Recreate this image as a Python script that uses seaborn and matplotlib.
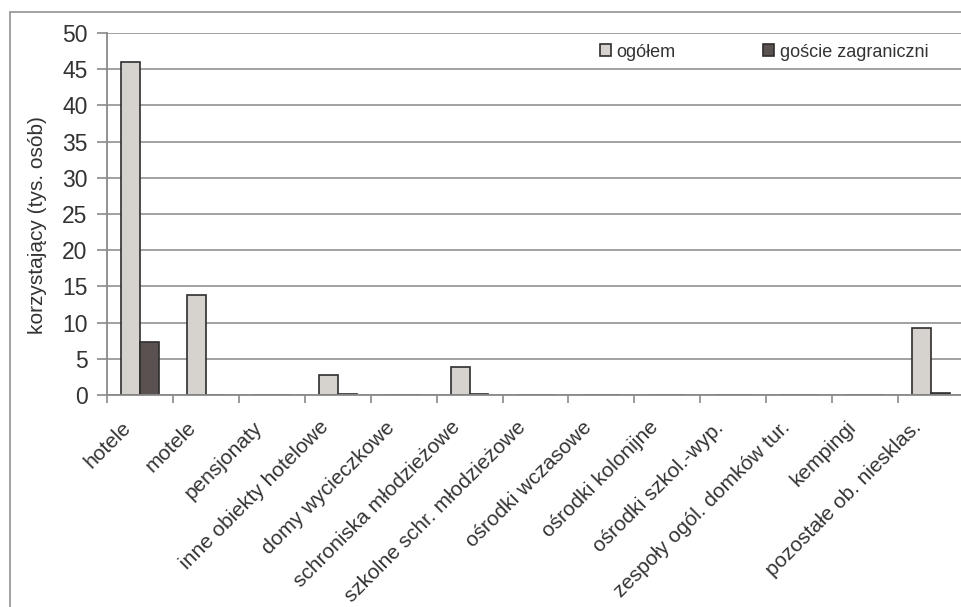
import pandas as pd
import numpy as np
import matplotlib
matplotlib.use("Agg")
import matplotlib.pyplot as plt
import matplotlib.transforms as mtransforms
import seaborn as sns
from matplotlib.patches import Rectangle

# --- data (thousands of guests) ---
categories = ['hotele', 'motele', 'pensjonaty', 'inne obiekty hotelowe',
              'domy wycieczkowe', 'schroniska młodzieżowe',
              'szkolne schr. młodzieżowe', 'ośrodki wczasowe',
              'ośrodki kolonijne', 'ośrodki szkol.-wyp.',
              'zespoły ogól. domków tur.', 'kempingi', 'pozostałe ob. niesklas.']
ogolem = [46.0, 13.8, 0.0, 2.7, 0.0, 3.9, 0.0, 0.0, 0.0, 0.0, 0.0, 0.0, 9.3]
zagraniczni = [7.3, 0.0, 0.0, 0.2, 0.0, 0.2, 0.0, 0.0, 0.0, 0.0, 0.0, 0.0, 0.3]
series_names = ['ogółem', 'goście zagraniczni']
y_ticks = [0, 5, 10, 15, 20, 25, 30, 35, 40, 45, 50]

df = pd.DataFrame({
    'kategoria': categories * 2,
    'seria': [series_names[0]] * len(categories) + [series_names[1]] * len(categories),
    'wartosc': ogolem + zagraniczni,
})

sns.set_theme(style="white")
plt.rcParams['font.family'] = ['Liberation Sans', 'DejaVu Sans']

fig = plt.figure(figsize=(9.61, 6.07), dpi=100)
ax = fig.add_axes([107 / 961, 1 - 395 / 607, (964 - 107) / 961, (395 - 33) / 607])

palette = {series_names[0]: '#d6d2ce', series_names[1]: '#5a5250'}
sns.barplot(data=df, x='kategoria', y='wartosc', hue='seria', order=categories,
            hue_order=series_names, palette=palette, width=0.57,
            edgecolor='#2e2e2e', linewidth=1.2, saturation=1, ax=ax, legend=False)

ax.set_xlim(-0.5, len(categories) - 0.5)
ax.set_ylim(0, 50)
ax.set_yticks(y_ticks)
ax.yaxis.grid(True, color='#9a9a9a', linewidth=1.3)
ax.set_axisbelow(True)
for s in ['top', 'right']:
    ax.spines[s].set_visible(False)
for s in ['left', 'bottom']:
    ax.spines[s].set_color('#8a8a8a')
    ax.spines[s].set_linewidth(1.3)

ax.tick_params(axis='y', labelsize=16.5, colors='#8a8a8a', labelcolor='#333333',
               length=7, width=1.2, left=True, pad=7)
ax.set_xticks(range(len(categories)))
ax.set_xticklabels(categories, rotation=45, ha='right', rotation_mode='anchor',
                   fontsize=15, color='#333333')
ax.tick_params(axis='x', which='major', length=0, pad=12)
# shift the slanted labels back along their baseline, like in the original
offset = mtransforms.ScaledTranslation(-19 / 100, -6 / 100, fig.dpi_scale_trans)
for lbl in ax.get_xticklabels():
    lbl.set_transform(lbl.get_transform() + offset)
ax.set_xticks(np.arange(-0.5, len(categories), 1.0), minor=True)
ax.tick_params(axis='x', which='minor', length=6, width=1.2, color='#8a8a8a',
               bottom=True)

ax.set_xlabel('')
ax.set_ylabel('korzystający (tys. osób)', fontsize=15, color='#333333')
ax.yaxis.set_label_coords(-0.070, 0.47)

handles = [Rectangle((0, 0), 1, 1, facecolor=palette[n], edgecolor='#2e2e2e', linewidth=1.2)
           for n in series_names]
fig.legend(handles, series_names, loc='center left', bbox_to_anchor=(0.607, 0.914),
           ncol=2, frameon=False,
           fontsize=13, handlelength=0.65, handleheight=0.65, handletextpad=0.3,
           columnspacing=4.8, labelcolor='#333333', borderpad=0.4)

# outer chart frame (cropped on the right and bottom)
fig.patches.append(Rectangle((10 / 961, -0.05), 1.0, 1 - 12 / 607 + 0.05,
                             transform=fig.transFigure, fill=False,
                             edgecolor='#9a9a9a', linewidth=1.3))

fig.savefig('out.png', dpi=100)
